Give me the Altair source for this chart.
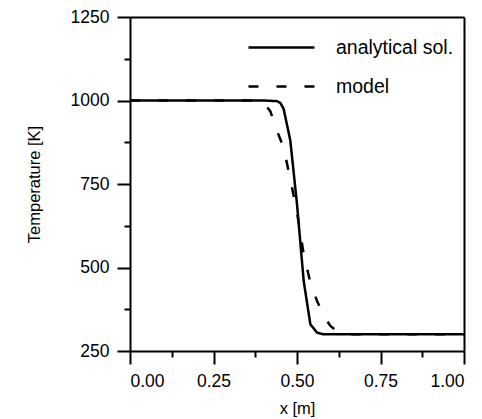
import altair as alt
import pandas as pd

# analytical solution
xa = [0.0, 0.40, 0.44, 0.45, 0.46, 0.48, 0.50, 0.52, 0.54, 0.56, 0.58, 1.0]
Ta = [1000, 1000, 998, 993, 975, 880, 690, 460, 330, 305, 300, 300]
# model
xm = [0.0, 0.38, 0.40, 0.42, 0.44, 0.46, 0.48, 0.50, 0.52, 0.54, 0.56, 0.58, 0.60, 0.62, 0.64, 0.66, 1.0]
Tm = [1000, 1000, 993, 968, 910, 858, 765, 665, 540, 455, 400, 355, 325, 310, 303, 300, 300]

series_names = ["analytical sol.", "model"]
x_major = [0, 0.25, 0.5, 0.75, 1.0]
x_minor = [0.125, 0.375, 0.625, 0.875]
y_major = [250, 500, 750, 1000, 1250]
y_minor = [375, 625, 875, 1125]

df_a = pd.DataFrame({"x": xa, "T": Ta, "s": series_names[0]})
df_m = pd.DataFrame({"x": xm, "T": Tm, "s": series_names[1]})

FONT = "Liberation Sans"
xs = alt.Scale(domain=[0, 1], nice=False, zero=False)
ys = alt.Scale(domain=[250, 1250], nice=False, zero=False)

common_axis = dict(domainColor="black", domainWidth=2, tickColor="black", tickWidth=2,
                   labelFont=FONT, labelFontSize=17.5, labelColor="black",
                   titleFont=FONT, titleFontSize=16.5, titleColor="black", titleFontWeight="normal",
                   grid=False)


def legend_at(y):
    return alt.Legend(title=None, orient="none", legendX=117, legendY=y,
                      symbolType="stroke", symbolSize=4356,
                      symbolStrokeWidth=2.5, symbolStrokeColor="black",
                      labelFont=FONT, labelFontSize=19.5, labelColor="black",
                      labelOffset=20)


line_a = alt.Chart(df_a).mark_line(strokeWidth=2.5, color="black").encode(
    x=alt.X("x:Q", scale=xs,
            axis=alt.Axis(title="x [m]", values=x_major, format=".2f", tickSize=13,
                          labelPadding=8, titlePadding=11, orient="bottom", **common_axis)),
    y=alt.Y("T:Q", scale=ys,
            axis=alt.Axis(title="Temperature [K]", values=y_major, format="d", tickSize=13,
                          labelPadding=8, titlePadding=28, orient="left", **common_axis)),
    strokeDash=alt.StrokeDash("s:N", scale=alt.Scale(domain=[series_names[0]], range=[[1, 0]]),
                              legend=legend_at(-4)),
)

line_m = alt.Chart(df_m).mark_line(strokeWidth=2.5, color="black").encode(
    x=alt.X("x:Q", scale=xs, axis=None),
    y=alt.Y("T:Q", scale=ys, axis=None),
    strokeDash=alt.StrokeDash("s:N", scale=alt.Scale(domain=[series_names[1]], range=[[10, 18]]),
                              legend=legend_at(35)),
)

minor_df = pd.DataFrame({"x": x_minor, "T": y_minor})
minor = alt.Chart(minor_df).mark_point(opacity=0).encode(
    x=alt.X("x:Q", scale=xs,
            axis=alt.Axis(title=None, values=x_minor, labels=False, tickSize=6, domain=False,
                          orient="bottom", tickColor="black", tickWidth=2, grid=False)),
    y=alt.Y("T:Q", scale=ys,
            axis=alt.Axis(title=None, values=y_minor, labels=False, tickSize=6, domain=False,
                          orient="left", tickColor="black", tickWidth=2, grid=False)),
)

frame = alt.Chart(minor_df).mark_point(opacity=0).encode(
    x=alt.X("x:Q", scale=xs,
            axis=alt.Axis(title=None, labels=False, ticks=False, domain=True, orient="top",
                          domainColor="black", domainWidth=2, grid=False)),
    y=alt.Y("T:Q", scale=ys,
            axis=alt.Axis(title=None, labels=False, ticks=False, domain=True, orient="right",
                          domainColor="black", domainWidth=2, grid=False)),
)

chart = alt.layer(line_a, line_m, minor, frame).resolve_axis(
    x="independent", y="independent"
).resolve_scale(strokeDash="independent").properties(
    width=334, height=334,
    autosize=alt.AutoSizeParams(type="none"),
    padding={"left": 122, "top": 9, "right": 10, "bottom": 67},
).configure_view(stroke="black", strokeWidth=2).configure(background="white")

chart.save("out.html", embed_options={"renderer": "svg", "actions": False})
